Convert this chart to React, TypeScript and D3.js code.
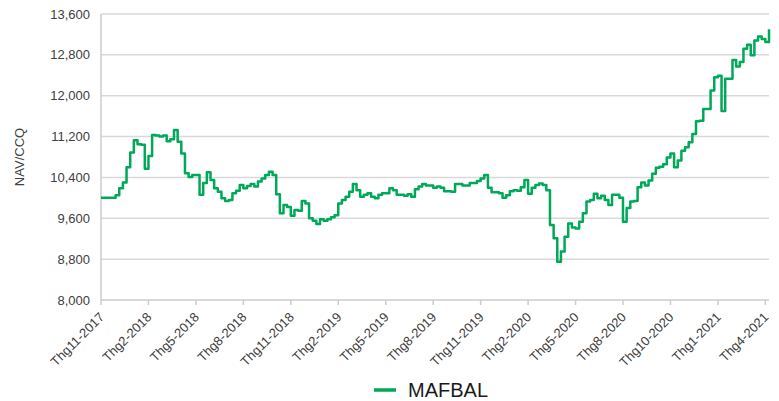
import { useEffect, useRef } from "react";
import * as d3 from "d3";

const WIDTH = 779;
const HEIGHT = 401;
const MARGIN = { top: 14, right: 10, bottom: 101, left: 101 };

const SERIES_NAME = "MAFBAL";
const Y_TICKS = [8000, 8800, 9600, 10400, 11200, 12000, 12800, 13600];
const TICK_LABELS = [
  "Thg11-2017", "Thg2-2018", "Thg5-2018", "Thg8-2018", "Thg11-2018",
  "Thg2-2019", "Thg5-2019", "Thg8-2019", "Thg11-2019", "Thg2-2020",
  "Thg5-2020", "Thg8-2020", "Thg10-2020", "Thg1-2021", "Thg4-2021",
];
// week index of each category label
const TICK_WEEKS = [0, 13, 26, 39, 52, 65, 78, 91, 104, 117, 130, 143, 156, 169, 182];

// weekly NAV/CCQ
const NAV = [
  10000, 10000, 10000, 10000, 10050, 10190, 10300, 10600, 10890, 11130,
  11050, 11040, 10570, 10820, 11230, 11220, 11200, 11220, 11110, 11150,
  11330, 11100, 10870, 10480, 10410, 10450, 10450, 10060, 10290, 10500,
  10350, 10190, 10120, 9990, 9940, 9960, 10090, 10140, 10250, 10190,
  10230, 10270, 10220, 10320, 10380, 10450, 10510, 10450, 10070, 9700,
  9860, 9820, 9650, 9760, 9750, 9940, 9890, 9600, 9550, 9490,
  9580, 9550, 9580, 9620, 9660, 9890, 9960, 10020, 10120, 10270,
  10150, 10020, 10060, 10090, 10020, 9990, 10060, 10090, 10090, 10190,
  10150, 10060, 10060, 10040, 10070, 10020, 10170, 10220, 10270, 10240,
  10240, 10200, 10220, 10200, 10130, 10130, 10120, 10270, 10270, 10240,
  10240, 10290, 10290, 10330, 10380, 10450, 10200, 10110, 10110, 10090,
  10000, 10050, 10130, 10150, 10140, 10210, 10350, 10080, 10200, 10250,
  10280, 10250, 10150, 9470, 9210, 8750, 8950, 9240, 9500, 9420,
  9400, 9530, 9700, 9930, 9960, 10080, 9990, 10040, 9960, 9860,
  10060, 10060, 10000, 9530, 9800, 9930, 9940, 10210, 10300, 10240,
  10340, 10470, 10590, 10610, 10660, 10790, 10870, 10600, 10730, 10920,
  10990, 11090, 11250, 11500, 11510, 11740, 11740, 12100, 12360, 12390,
  11700, 12330, 12330, 12700, 12570, 12660, 12920, 13000, 12790, 13080,
  13160, 13110, 13050, 13300,
];

const FONT = "'Liberation Sans', Arial, sans-serif";
const LINE_COLOR = "#00a859";

export default function App() {
  const svgRef = useRef<SVGSVGElement | null>(null);

  useEffect(() => {
    const svg = d3.select(svgRef.current);
    svg.selectAll("*").remove();

    const plotRight = WIDTH - MARGIN.right;
    const plotBottom = HEIGHT - MARGIN.bottom;

    const x = d3.scaleLinear().domain([0, NAV.length - 1]).range([MARGIN.left, plotRight]);
    const y = d3.scaleLinear().domain([8000, 13600]).range([plotBottom, MARGIN.top]);

    // horizontal grid
    svg
      .append("g")
      .selectAll("line")
      .data(Y_TICKS.slice(1))
      .join("line")
      .attr("x1", MARGIN.left)
      .attr("x2", plotRight)
      .attr("y1", (d) => y(d))
      .attr("y2", (d) => y(d))
      .attr("stroke", "#d9d9d9")
      .attr("stroke-width", 1.5);

    // y tick labels
    svg
      .append("g")
      .selectAll("text")
      .data(Y_TICKS)
      .join("text")
      .attr("x", MARGIN.left - 11)
      .attr("y", (d) => y(d))
      .attr("dy", "0.35em")
      .attr("text-anchor", "end")
      .attr("font-family", FONT)
      .attr("font-size", 13)
      .attr("fill", "#404040")
      .text((d) => d3.format(",")(d));

    // axes lines
    svg
      .append("line")
      .attr("x1", MARGIN.left)
      .attr("x2", MARGIN.left)
      .attr("y1", MARGIN.top)
      .attr("y2", plotBottom)
      .attr("stroke", "#cccccc")
      .attr("stroke-width", 1.5);

    svg
      .append("line")
      .attr("x1", MARGIN.left)
      .attr("x2", plotRight)
      .attr("y1", plotBottom)
      .attr("y2", plotBottom)
      .attr("stroke", "#cccccc")
      .attr("stroke-width", 1.5);

    // x ticks + labels
    const xTicks = svg.append("g");
    TICK_WEEKS.forEach((week, i) => {
      const tx = x(week);
      xTicks
        .append("line")
        .attr("x1", tx)
        .attr("x2", tx)
        .attr("y1", plotBottom)
        .attr("y2", plotBottom + 5)
        .attr("stroke", "#cccccc")
        .attr("stroke-width", 1.5);
      xTicks
        .append("text")
        .attr("transform", `translate(${tx + 4}, ${plotBottom + 18}) rotate(-45)`)
        .attr("text-anchor", "end")
        .attr("font-family", FONT)
        .attr("font-size", 13)
        .attr("fill", "#404040")
        .text(TICK_LABELS[i]);
    });

    // y axis title
    svg
      .append("text")
      .attr("transform", `translate(24, ${(MARGIN.top + plotBottom) / 2}) rotate(-90)`)
      .attr("text-anchor", "middle")
      .attr("font-family", FONT)
      .attr("font-size", 13)
      .attr("fill", "#404040")
      .text("NAV/CCQ");

    // series
    const line = d3
      .line<number>()
      .x((_, i) => x(i))
      .y((d) => y(d))
      .curve(d3.curveStepAfter);

    svg
      .append("path")
      .datum(NAV)
      .attr("fill", "none")
      .attr("stroke", LINE_COLOR)
      .attr("stroke-width", 2.5)
      .attr("stroke-linejoin", "round")
      .attr("d", line);

    // legend
    const legend = svg.append("g");
    legend
      .append("line")
      .attr("x1", 374)
      .attr("x2", 396)
      .attr("y1", 390)
      .attr("y2", 390)
      .attr("stroke", LINE_COLOR)
      .attr("stroke-width", 3.5);
    legend
      .append("text")
      .attr("x", 408)
      .attr("y", 397)
      .attr("font-family", FONT)
      .attr("font-size", 20)
      .attr("fill", "#1a1a1a")
      .text(SERIES_NAME);
  }, []);

  return (
    <svg
      ref={svgRef}
      width={WIDTH}
      height={HEIGHT}
      style={{ position: "absolute", left: 0, top: 0, background: "#ffffff" }}
    />
  );
}
